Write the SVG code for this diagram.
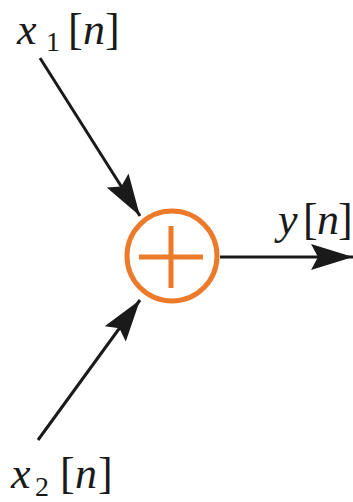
<svg xmlns="http://www.w3.org/2000/svg" width="353" height="502" viewBox="0 0 353 502">
<style>
text{font-family:'Liberation Serif','Times New Roman',serif;font-size:44px;fill:#1a1a1a}
.i{font-style:italic}
.s{font-size:28px}
.c{stroke:#1a1a1a;stroke-width:3;fill:none}
.o{stroke:#ec7a2b;stroke-width:5;fill:none}
</style>
<defs>
<marker id="a" markerWidth="42" markerHeight="26" refX="42" refY="13" orient="auto" markerUnits="userSpaceOnUse" viewBox="0 0 42 26">
<path d="M0,0 L42,13 L0,26 L7,13 Z" fill="#1a1a1a"/>
</marker>
</defs>
<g id="connectors">
<path class="c" d="M40,58 L140,216" marker-end="url(#a)"/>
<path class="c" d="M38,440 L140,300" marker-end="url(#a)"/>
<path class="c" d="M220,257 L353,257" marker-end="url(#a)"/>
</g>
<g id="sum">
<circle class="o" cx="172" cy="256" r="45"/>
<path class="o" d="M139,257 H203 M171,226 V288"/>
</g>
<g id="x1"><text><tspan class="i" x="17" y="44">x</tspan><tspan class="s" x="46" y="51">1</tspan><tspan x="68" y="44">[</tspan><tspan class="i" x="83" y="44">n</tspan><tspan x="105" y="44">]</tspan></text></g>
<g id="x2"><text><tspan class="i" x="11" y="488">x</tspan><tspan class="s" x="35" y="496">2</tspan><tspan x="60" y="488">[</tspan><tspan class="i" x="75" y="488">n</tspan><tspan x="98" y="488">]</tspan></text></g>
<g id="y"><text><tspan class="i" x="278" y="234">y</tspan><tspan x="303" y="234">[</tspan><tspan class="i" x="317" y="234">n</tspan><tspan x="338" y="234">]</tspan></text></g>
</svg>
